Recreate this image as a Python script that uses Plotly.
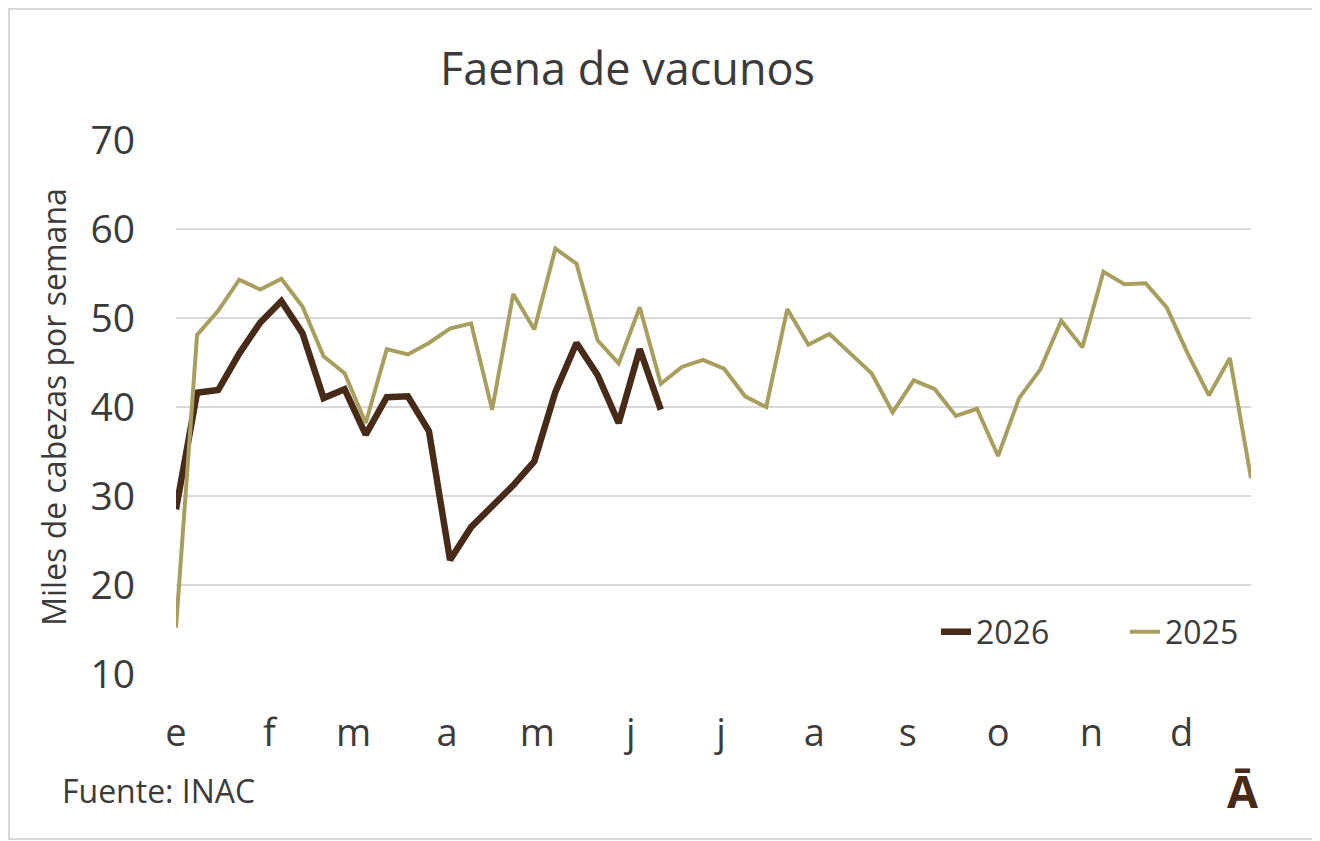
import pandas as pd
import plotly.graph_objects as go

### DATA

month_labels = ["e", "f", "m", "a", "m", "j", "j", "a", "s", "o", "n", "d"]
month_starts = pd.date_range("2025-01-01", periods=12, freq="MS")
weeks = pd.date_range("2025-01-01", periods=52, freq="7D")

faena_2025 = [15.2, 48.1, 50.8, 54.3, 53.2, 54.4, 51.3, 45.7, 43.8, 38.2,
              46.5, 45.9, 47.2, 48.8, 49.4, 39.7, 52.7, 48.7, 57.8, 56.1,
              47.5, 44.9, 51.2, 42.6, 44.5, 45.3, 44.3, 41.2, 40.0, 51.0,
              47.0, 48.2, 46.0, 43.8, 39.4, 43.0, 42.0, 39.0, 39.8, 34.5,
              41.0, 44.2, 49.7, 46.7, 55.2, 53.8, 53.9, 51.2, 46.0, 41.3,
              45.5, 32.0]

faena_2026 = [28.5, 41.6, 41.9, 46.0, 49.5, 51.9, 48.3, 41.0, 42.0, 36.9,
              41.1, 41.2, 37.3, 22.8, 26.5, 28.8, 31.2, 33.9, 41.7, 47.2,
              43.6, 38.2, 46.5, 39.7]

TEXT = "#3b3b3b"
FONT = "Open Sans"

# the page puts the figure 8px in from the top left corner
OFF = 8
PLOT_L, PLOT_T, PLOT_W, PLOT_H = 176 - OFF, 140 - OFF, 1075, 534


def px(x):
    # page pixel -> paper x
    return (x - OFF - PLOT_L) / PLOT_W


def py_(y):
    # page pixel -> paper y
    return (PLOT_T + PLOT_H - (y - OFF)) / PLOT_H


### FIGURE

fig = go.Figure()
fig.add_trace(go.Scatter(x=weeks[:len(faena_2026)], y=faena_2026, name="2026",
                         mode="lines", line=dict(color="#472a18", width=6.5)))
fig.add_trace(go.Scatter(x=weeks, y=faena_2025, name="2025",
                         mode="lines", line=dict(color="#a89f5e", width=4)))

fig.update_layout(
    width=1320 - OFF, height=841 - OFF,
    margin=dict(l=PLOT_L, r=1320 - OFF - PLOT_L - PLOT_W, t=PLOT_T,
                b=841 - OFF - PLOT_T - PLOT_H, autoexpand=False),
    paper_bgcolor="white", plot_bgcolor="white",
    font=dict(family=FONT, color=TEXT),
    showlegend=True,
    legend=dict(orientation="h", x=px(936), xanchor="left", y=py_(632), yanchor="middle",
                font=dict(size=32, color=TEXT), bgcolor="rgba(0,0,0,0)",
                entrywidth=144, traceorder="normal"),
    xaxis=dict(range=[weeks[0], weeks[-1]], tickvals=month_starts, ticktext=month_labels,
               showgrid=False, zeroline=False, showline=False,
               tickfont=dict(size=38, color=TEXT), ticks="", ticklabelstandoff=33),
    yaxis=dict(range=[10, 70], dtick=10, showgrid=True, gridcolor="#d9d9d9", gridwidth=2,
               zeroline=False, showline=False, tickfont=dict(size=39, color=TEXT),
               ticks="", ticklabelstandoff=40,
               title=dict(text="Miles de cabezas por semana", font=dict(size=32, color=TEXT),
                          standoff=14)),
    hovermode="x unified",
)

fig.add_annotation(text="Faena de vacunos", xref="paper", yref="paper",
                   x=px(627), y=py_(67), xanchor="center", yanchor="middle",
                   showarrow=False, font=dict(size=45, color=TEXT))
fig.add_annotation(text="Fuente: INAC", xref="paper", yref="paper",
                   x=px(60), y=py_(790), xanchor="left", yanchor="middle",
                   showarrow=False, font=dict(size=32, color=TEXT))
fig.add_annotation(text="<b>Ā</b>", xref="paper", yref="paper",
                   x=px(1243), y=py_(790), xanchor="center", yanchor="middle",
                   showarrow=False, font=dict(size=45, color="#472a18"))

# light frame round the whole picture
fig.add_shape(type="rect", xref="paper", yref="paper",
              x0=px(OFF + 1), x1=px(1318), y0=py_(839), y1=py_(OFF + 1),
              line=dict(color="#d9d9d9", width=2), layer="below")

fig.write_html("out.html")
